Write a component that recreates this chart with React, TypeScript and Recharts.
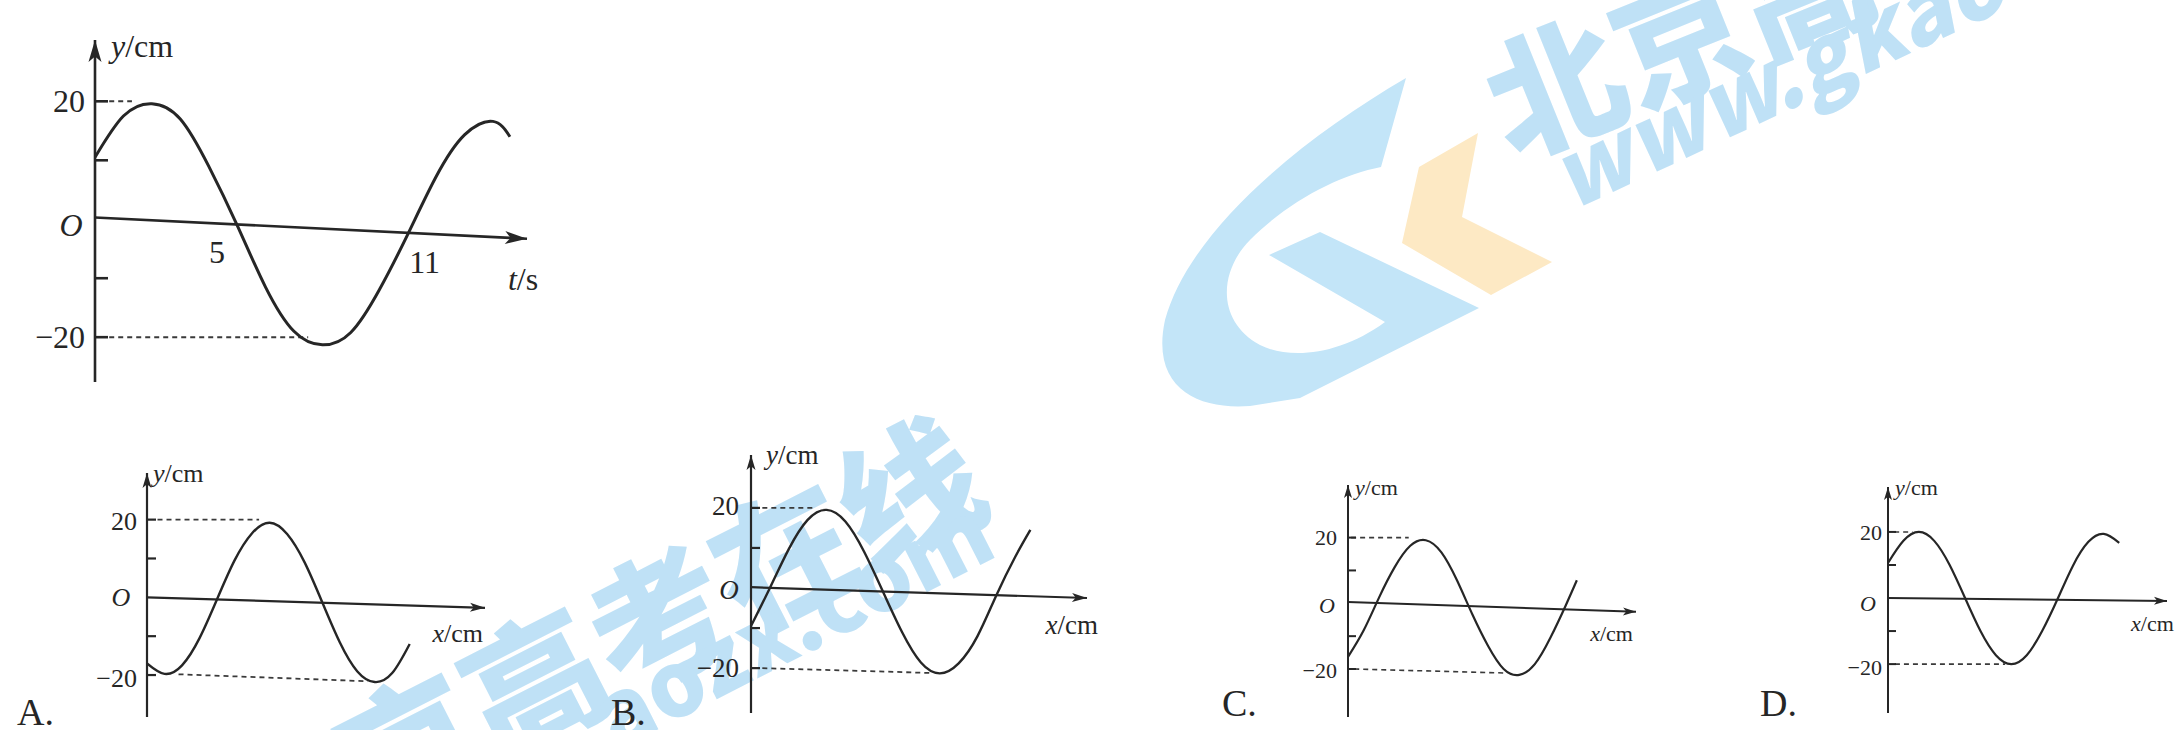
import React from 'react';
import { LineChart, Line, XAxis, YAxis, ReferenceLine, ReferenceDot } from 'recharts';

const INK = '#262626';
const SERIF = '"Liberation Serif", "DejaVu Serif", serif';
const MARK = '#bfe1f6';

// reference figure: y/cm over t/s
const mainT = [0, 1, 2, 3, 4, 5, 6, 7, 8, 9, 10, 11, 12, 13, 14, 14.6];
const mainY = [10.5, 17.5, 19.6, 17, 9, -1, -11.5, -19, -21.3, -19.2, -12, -2.6, 7.2, 14.3, 16.6, 14];
const mainTimeTicks = [5, 11];

// options A-D: y/cm over x/cm
const aX = [0, 1, 2, 3, 4, 5, 6, 7, 8, 9, 10, 11, 12, 13, 14, 15];
const aY = [-17, -19.7, -17.5, -10.5, -0.5, 9.5, 16.5, 19.2, 16.3, 9, -1.2, -11.5, -19, -21.8, -19.5, -12];
const bX = [0, 1, 2, 3, 4, 5, 6, 7, 8, 9, 10, 11, 12, 13, 14, 14.8];
const bY = [-9.5, 0, 9.7, 17, 19.5, 16.6, 9, -1, -11, -18.6, -21.3, -18.8, -12, -1.8, 7.8, 14.5];
const cX = [0, 1, 2, 3, 4, 5, 6, 7, 8, 9, 10, 11, 12, 13, 14, 14.7];
const cY = [-16.3, -8.3, 1.8, 11, 17.5, 19.2, 15.5, 7, -3.5, -13, -20, -21.8, -18.5, -10.5, -0.5, 7];
const dX = [0, 1, 2, 3, 4, 5, 6, 7, 8, 9, 10, 11, 12, 13, 14, 15];
const dY = [10.6, 17.3, 20, 17.3, 10, 0, -10, -17.3, -20, -17.3, -10, -0.3, 9.8, 17, 19.4, 16.7];

const yMarks = [20, 10, -10, -20];
const yLabels = [20, -20];
const letters = ['A.', 'B.', 'C.', 'D.'];

type Note = { at: [number, number]; dx: number; dy: number; anchor?: 'start' | 'middle' | 'end'; size?: number; node: React.ReactNode };

type Panel = {
  xs: number[];
  ys: number[];
  left: number;
  top: number;
  width: number;
  height: number;
  xMax: number;
  yMin: number;
  yMax: number;
  axis: [number, number]; // the scanned x-axis is a little tilted
  tilt: number;
  font: number;
  line: number;
  axisW: number;
  arrow: [number, number];
  tick: number;
  dashes: number[][];
  notes: Note[];
};

const it = (s: string) => <tspan fontStyle="italic">{s}</tspan>;

const axisName = (v: string, unit: string) => (
  <>
    {it(v)}/{unit}
  </>
);

const valueNotes = (dx20: number, dy20: number, dxm: number, dym: number, dxo: number, dyo: number): Note[] => [
  { at: [0, yLabels[0]], dx: dx20, dy: dy20, anchor: 'end', node: String(yLabels[0]) },
  { at: [0, yLabels[1]], dx: dxm, dy: dym, anchor: 'end', node: '\u2212' + Math.abs(yLabels[1]) },
  { at: [0, 0], dx: dxo, dy: dyo, node: it('O') },
];

const panels: Panel[] = [
  {
    xs: mainT, ys: mainY,
    left: 95, top: 40, width: 432, height: 342,
    xMax: 15.2, yMin: -27.6, yMax: 30.4,
    axis: [0.3, -3.3], tilt: 2.9,
    font: 32, line: 3, axisW: 2.6, arrow: [22, 6.5], tick: 13,
    dashes: [[0.5, 20, 1.3, 20], [0.5, -20, 7.5, -20]],
    notes: [
      ...valueNotes(-10, 0, -10, 0, -24, 6),
      { at: [0, 30.4], dx: 16, dy: 6, anchor: 'start', node: axisName('y', 'cm') },
      { at: [mainTimeTicks[0], 0], dx: -20, dy: 33, node: String(mainTimeTicks[0]) },
      { at: [mainTimeTicks[1], 0], dx: 17, dy: 43, node: String(mainTimeTicks[1]) },
      { at: [15.2, 0], dx: -4, dy: 60, node: axisName('t', 's') },
    ],
  },
  {
    xs: aX, ys: aY,
    left: 147, top: 473, width: 338, height: 244,
    xMax: 19.3, yMin: -30.8, yMax: 32,
    axis: [0, -2.7], tilt: 1.9,
    font: 26, line: 2.4, axisW: 2.2, arrow: [15, 4.5], tick: 9,
    dashes: [[0.6, 20, 6.4, 20], [1.8, -19.8, 12.6, -21.6]],
    notes: [
      ...valueNotes(-10, 2, -10, 3, -26, 0),
      { at: [0, 32], dx: 6, dy: 0, anchor: 'start', node: axisName('y', 'cm') },
      { at: [19.3, 0], dx: -2, dy: 36, anchor: 'end', node: axisName('x', 'cm') },
      { at: [0, -30.8], dx: -130, dy: -5, anchor: 'start', size: 38, node: letters[0] },
    ],
  },
  {
    xs: bX, ys: bY,
    left: 751, top: 455, width: 336, height: 258,
    xMax: 17.8, yMin: -31.2, yMax: 33.2,
    axis: [0.2, -2.5], tilt: 1.9,
    font: 27, line: 2.4, axisW: 2.2, arrow: [15, 4.5], tick: 9,
    dashes: [[0.6, 20, 3.3, 20], [0.6, -20, 9.5, -21.2]],
    notes: [
      ...valueNotes(-12, -2, -12, 0, -22, 2),
      { at: [0, 33.2], dx: 15, dy: 0, anchor: 'start', node: axisName('y', 'cm') },
      { at: [17.8, 0], dx: 11, dy: 37, anchor: 'end', node: axisName('x', 'cm') },
      { at: [0, -31.2], dx: -140, dy: -1, anchor: 'start', size: 38, node: letters[1] },
    ],
  },
  {
    xs: cX, ys: cY,
    left: 1348, top: 485, width: 288, height: 232,
    xMax: 18.5, yMin: -34.6, yMax: 36,
    axis: [0.4, -2.6], tilt: 2,
    font: 22, line: 2.2, axisW: 2, arrow: [13, 4], tick: 8,
    dashes: [[0.2, 20, 3.9, 20], [0.4, -20, 10, -21.2]],
    notes: [
      ...valueNotes(-11, 0, -11, 1, -21, 2),
      { at: [0, 36], dx: 7, dy: 2, anchor: 'start', node: axisName('y', 'cm') },
      { at: [18.5, 0], dx: -3, dy: 30, anchor: 'end', node: axisName('x', 'cm') },
      { at: [0, -34.6], dx: -126, dy: -14, anchor: 'start', size: 38, node: letters[2] },
    ],
  },
  {
    xs: dX, ys: dY,
    left: 1888, top: 487, width: 279, height: 226,
    xMax: 18.1, yMin: -34.8, yMax: 33.6,
    axis: [0, -0.9], tilt: 0.6,
    font: 22, line: 2.2, axisW: 2, arrow: [13, 4], tick: 8,
    dashes: [[0.4, 20, 1.6, 20], [0.45, -20, 7.6, -20]],
    notes: [
      ...valueNotes(-6, 1, -6, 3, -20, 5),
      { at: [0, 33.6], dx: 7, dy: 0, anchor: 'start', node: axisName('y', 'cm') },
      { at: [18.1, 0], dx: -36, dy: 25, anchor: 'start', node: axisName('x', 'cm') },
      { at: [0, -34.8], dx: -128, dy: -10, anchor: 'start', size: 38, node: letters[3] },
    ],
  },
];

const PAD = { top: 30, right: 70, bottom: 30, left: 150 };

const upArrow = (len: number, w: number) => (s: any) => (
  <path
    d={`M${s.cx},${s.cy} L${s.cx - w},${s.cy + len} L${s.cx},${s.cy + len * 0.75} L${s.cx + w},${s.cy + len} Z`}
    fill={INK}
  />
);

const rightArrow = (len: number, w: number, angle: number) => (s: any) => (
  <path
    d={`M${s.cx},${s.cy} L${s.cx - len},${s.cy - w} L${s.cx - len * 0.75},${s.cy} L${s.cx - len},${s.cy + w} Z`}
    fill={INK}
    transform={`rotate(${angle} ${s.cx} ${s.cy})`}
  />
);

const tickShape = (len: number, w: number) => (s: any) => (
  <line x1={s.cx} y1={s.cy} x2={s.cx + len} y2={s.cy} stroke={INK} strokeWidth={w} />
);

const noteShape = (n: Note, font: number) => (s: any) => (
  <text
    x={s.cx + n.dx}
    y={s.cy + n.dy}
    textAnchor={n.anchor ?? 'middle'}
    dominantBaseline="central"
    fontSize={n.size ?? font}
    fontFamily={SERIF}
    fill={INK}
  >
    {n.node}
  </text>
);

const PanelChart = ({ p }: { p: Panel }) => {
  const rows = p.xs.map((x, i) => ({ x, y: p.ys[i] }));
  return (
    <div style={{ position: 'absolute', left: p.left - PAD.left, top: p.top - PAD.top }}>
      <LineChart width={p.width + PAD.left + PAD.right} height={p.height + PAD.top + PAD.bottom} data={rows} margin={PAD}>
        <XAxis type="number" dataKey="x" domain={[0, p.xMax]} hide allowDataOverflow />
        <YAxis type="number" domain={[p.yMin, p.yMax]} hide allowDataOverflow />
        <ReferenceLine x={0} stroke={INK} strokeWidth={p.axisW} ifOverflow="visible" />
        <ReferenceLine
          segment={[{ x: 0, y: p.axis[0] }, { x: p.xMax, y: p.axis[1] }]}
          stroke={INK}
          strokeWidth={p.axisW}
          ifOverflow="visible"
        />
        {p.dashes.map((d, i) => (
          <ReferenceLine
            key={'dash' + i}
            segment={[{ x: d[0], y: d[1] }, { x: d[2], y: d[3] }]}
            stroke="#3a3a3a"
            strokeWidth={p.axisW * 0.8}
            strokeDasharray="5 4"
            ifOverflow="visible"
          />
        ))}
        {yMarks.map((v) => (
          <ReferenceDot key={'tick' + v} x={0} y={v} ifOverflow="visible" shape={tickShape(p.tick, p.axisW)} />
        ))}
        <ReferenceDot x={0} y={p.yMax} ifOverflow="visible" shape={upArrow(p.arrow[0], p.arrow[1])} />
        <ReferenceDot x={p.xMax} y={p.axis[1]} ifOverflow="visible" shape={rightArrow(p.arrow[0], p.arrow[1], p.tilt)} />
        {p.notes.map((n, i) => (
          <ReferenceDot key={'note' + i} x={n.at[0]} y={n.at[1]} ifOverflow="visible" shape={noteShape(n, p.font)} />
        ))}
        <Line type="natural" dataKey="y" stroke={INK} strokeWidth={p.line} dot={false} isAnimationActive={false} />
      </LineChart>
    </div>
  );
};

// faint site watermark from the scan
const Watermark = () => (
  <svg width={2177} height={730} style={{ position: 'absolute', left: 0, top: 0 }}>
    <path
      d="M1406,78 C1300,140 1190,230 1165,320 C1150,390 1200,410 1250,406 L1300,398 L1479,308 L1320,232 L1269,255 L1385,322 C1340,355 1290,360 1260,345 C1215,320 1220,270 1250,240 C1290,200 1340,175 1381,167 Z"
      fill="#c3e5f8"
    />
    <path d="M1478,133 L1462,217 L1552,262 L1491,295 L1402,243 L1419,167 Z" fill="#fde9c4" />
    <g fill={MARK} fontFamily='"Noto Sans CJK SC", "Noto Sans", sans-serif' fontWeight={900}>
      <text x={1512} y={160} fontSize={135} transform="rotate(-22 1512 160)">北京高</text>
      <text x={1570} y={212} fontSize={90} fontStyle="italic" transform="rotate(-25 1570 212)">www.gkao</text>
      <text x={995} y={508} fontSize={140} textAnchor="end" transform="rotate(-27 995 508)">京高考在线</text>
      <text x={1000} y={555} fontSize={90} textAnchor="end" transform="rotate(-27 1000 555)">aozx.com</text>
    </g>
  </svg>
);

export default function App() {
  return (
    <div style={{ position: 'absolute', left: 0, top: 0, width: 2177, height: 730, overflow: 'hidden', background: '#fff' }}>
      <Watermark />
      {panels.map((p, i) => (
        <PanelChart key={i} p={p} />
      ))}
    </div>
  );
}
